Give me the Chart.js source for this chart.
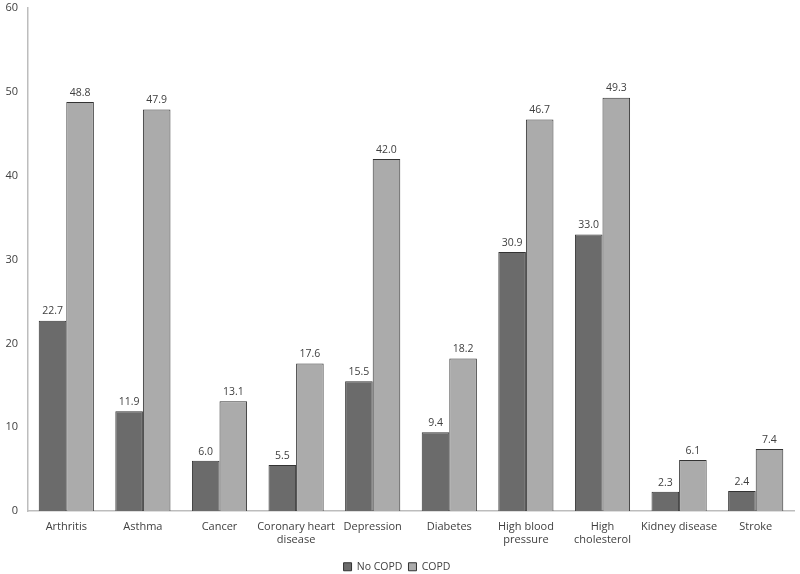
<!DOCTYPE html>
<html><head><meta charset="utf-8">
<script src="https://cdn.jsdelivr.net/npm/chart.js@4/dist/chart.umd.min.js"></script>
<style>html,body{margin:0;padding:0;background:#fff}#wrap{width:800px;height:574px;position:relative}</style>
</head><body><div id="wrap"><canvas id="c"></canvas></div>
<script>
const categories = ["Arthritis","Asthma","Cancer",["Coronary heart","disease"],"Depression","Diabetes",["High blood","pressure"],["High","cholesterol"],"Kidney disease","Stroke"];
const noCopd = [22.7,11.9,6.0,5.5,15.5,9.4,30.9,33.0,2.3,2.4];
const copd = [48.8,47.9,13.1,17.6,42.0,18.2,46.7,49.3,6.1,7.4];
const yTicks = [0,10,20,30,40,50,60];

const FONT = "'Open Sans', 'Liberation Sans', sans-serif";
const labelPlugin = {
  id:'vals',
  afterDatasetsDraw(chart){
    const ctx = chart.ctx;
    ctx.save();
    ctx.font = "10.5px " + FONT;
    ctx.fillStyle = "#404040";
    ctx.textAlign = "center";
    ctx.textBaseline = "bottom";
    chart.data.datasets.forEach((ds,i)=>{
      chart.getDatasetMeta(i).data.forEach((bar,j)=>{
        ctx.fillText(ds.data[j].toFixed(1), bar.x, bar.y - 4);
      });
    });
    ctx.restore();
  }
};

new Chart(document.getElementById('c'), {
  type:'bar',
  data:{
    labels: categories,
    datasets:[
      {label:'No COPD', data:noCopd, backgroundColor:'#6b6b6b', borderColor:'#333333', borderWidth:1},
      {label:'COPD', data:copd, backgroundColor:'#ababab', borderColor:'#333333', borderWidth:1}
    ]
  },
  options:{
    responsive:true, maintainAspectRatio:false, animation:false,
    devicePixelRatio:1,
    layout:{padding:{top:8,right:6,left:0,bottom:-8}},
    datasets:{bar:{categoryPercentage:0.72, barPercentage:1.0}},
    plugins:{
      legend:{position:'bottom', labels:{boxWidth:8, boxHeight:8, font:{family:FONT,size:10.5}, color:'#404040', padding:6}},
      tooltip:{enabled:false}
    },
    scales:{
      x:{
        grid:{display:false, drawTicks:false},
        border:{color:'#bdbdbd', width:1.5},
        ticks:{font:{family:FONT,size:11}, color:'#404040', padding:9, maxRotation:0, autoSkip:false}
      },
      y:{
        min:0, max:60,
        afterBuildTicks(s){ s.ticks = yTicks.map(v=>({value:v})); },
        afterFit(s){ s.width = 28; s.paddingTop = 0; s.paddingBottom = 0; },
        grid:{display:false, drawTicks:false},
        border:{color:'#bdbdbd', width:1.5},
        ticks:{font:{family:FONT,size:11}, color:'#404040', padding:10}
      }
    }
  },
  plugins:[labelPlugin]
});
</script></body></html>
